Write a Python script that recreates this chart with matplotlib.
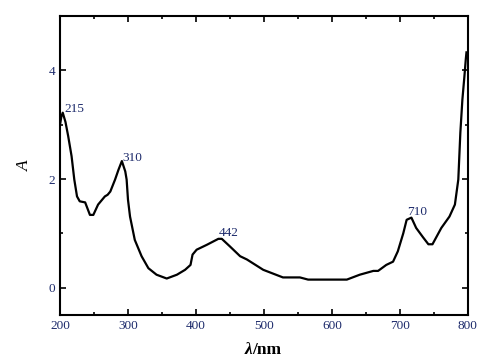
import numpy as np
import matplotlib.pyplot as plt
from matplotlib.ticker import MultipleLocator

# absorption spectrum
wavelength = [200, 202, 204, 208, 212, 217, 221, 225, 229, 237, 244, 249, 256, 266,
              270, 274, 281, 286, 291, 296, 298, 300, 303, 310, 320, 330, 342, 357,
              372, 384, 392, 395, 401, 416, 433, 438, 450, 465, 475, 499, 528, 553,
              565, 622, 641, 661, 668, 680, 690, 697, 705, 710, 717, 724, 734, 742,
              748, 761, 773, 781, 786, 789, 792, 795, 797, 798]
absorbance = [3.00, 3.15, 3.22, 3.05, 2.79, 2.42, 1.99, 1.68, 1.59, 1.57, 1.34, 1.34,
              1.53, 1.68, 1.71, 1.77, 1.99, 2.17, 2.33, 2.14, 1.99, 1.62, 1.31, 0.88,
              0.58, 0.36, 0.24, 0.17, 0.24, 0.33, 0.42, 0.61, 0.70, 0.79, 0.90, 0.90,
              0.76, 0.58, 0.52, 0.33, 0.19, 0.19, 0.15, 0.15, 0.24, 0.31, 0.31, 0.42,
              0.48, 0.67, 1.00, 1.25, 1.29, 1.10, 0.93, 0.80, 0.80, 1.10, 1.31, 1.53,
              1.99, 2.85, 3.46, 3.89, 4.20, 4.33]

peak_labels = ['215', '310', '442', '710']
peak_x = [206, 292, 433, 711]
peak_y = [3.28, 2.38, 1.01, 1.40]

text_color = '#1c2a6b'
plt.rcParams['font.family'] = ['Liberation Serif', 'DejaVu Serif']

fig = plt.figure(figsize=(4.94, 3.62), dpi=100)
ax = fig.add_axes([0.1215, 0.130, 0.8255, 0.826])

ax.plot(wavelength, absorbance, color='black', lw=1.6)

for lab, x, y in zip(peak_labels, peak_x, peak_y):
    ax.text(x, y, lab, fontsize=9.5, color=text_color, ha='left', va='center')

ax.set_xlim(200, 800)
ax.set_ylim(-0.5, 5)
ax.xaxis.set_major_locator(MultipleLocator(100))
ax.xaxis.set_minor_locator(MultipleLocator(50))
ax.yaxis.set_major_locator(MultipleLocator(2))
ax.yaxis.set_minor_locator(MultipleLocator(1))
ax.tick_params(which='both', direction='in', top=True, right=True,
               labelsize=9.5, labelcolor=text_color, width=1.2)
ax.tick_params(which='major', length=4)
ax.tick_params(which='minor', length=2)
for s in ax.spines.values():
    s.set_linewidth(1.5)

# x label: italic bold lambda followed by upright bold unit
ax.text(0.472, -0.092, 'λ', transform=ax.transAxes, fontsize=12.5, fontweight='bold',
        fontstyle='italic', ha='right', va='top')
ax.text(0.472, -0.092, '/nm', transform=ax.transAxes, fontsize=12.5, fontweight='bold',
        ha='left', va='top')
ax.set_ylabel('A', fontsize=12.5, fontstyle='italic', labelpad=11)

fig.savefig('out.png', dpi=100)
